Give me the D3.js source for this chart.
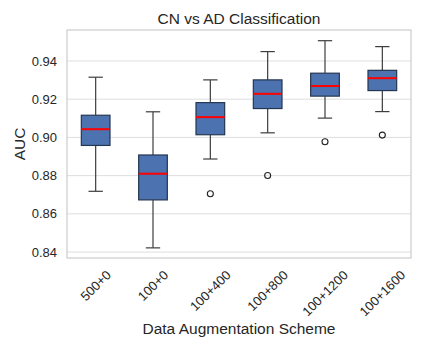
<!DOCTYPE html>
<html>
<head>
<meta charset="utf-8">
<script src="https://cdn.jsdelivr.net/npm/d3@7"></script>
<style>
  body { margin: 0; background: #fff; }
  svg { font-family: "Liberation Sans", Arial, sans-serif; }
</style>
</head>
<body>
<div id="chart"></div>
<script>
const schemes = ["500+0", "100+0", "100+400", "100+800", "100+1200", "100+1600"];
const whiskerLow = [0.8718, 0.8422, 0.8887, 0.9024, 0.9101, 0.9135];
const q1 = [0.8958, 0.8673, 0.9014, 0.9151, 0.9216, 0.9245];
const medians = [0.9043, 0.8810, 0.9106, 0.9228, 0.9269, 0.9310];
const q3 = [0.9116, 0.8908, 0.9182, 0.9301, 0.9336, 0.9351];
const whiskerHigh = [0.9315, 0.9134, 0.9301, 0.9449, 0.9506, 0.9475];
const outliers = [[], [], [0.8705], [0.8801], [0.8977], [0.9012]];
const yTicks = [0.84, 0.86, 0.88, 0.90, 0.92, 0.94];

const W = 423, H = 339;
const margin = { top: 30, right: 12, bottom: 81, left: 67 };
const width = W - margin.left - margin.right;
const height = H - margin.top - margin.bottom;

const svg = d3.select("#chart").append("svg")
    .attr("width", W)
    .attr("height", H);

const g = svg.append("g")
    .attr("transform", `translate(${margin.left},${margin.top})`);

const x = d3.scaleBand().domain(schemes).range([0, width]);
const y = d3.scaleLinear().domain([0.8369, 0.9562]).range([height, 0]);

// grid
g.selectAll(".grid").data(yTicks).enter().append("line")
    .attr("x1", 0).attr("x2", width)
    .attr("y1", d => y(d)).attr("y2", d => y(d))
    .attr("stroke", "#dedede").attr("stroke-width", 1);

// frame
g.append("rect")
    .attr("width", width).attr("height", height)
    .attr("fill", "none").attr("stroke", "#cccccc").attr("stroke-width", 1.2);

// y tick labels
g.selectAll(".ytick").data(yTicks).enter().append("text")
    .attr("x", -10)
    .attr("y", d => y(d))
    .attr("dy", "0.35em")
    .attr("text-anchor", "end")
    .attr("font-size", 13)
    .attr("fill", "#262626")
    .text(d => d3.format(".2f")(d));

const boxW = x.bandwidth() * 0.5;
const capW = boxW * 0.5;
const whiskColor = "#3d3d3d";

const boxes = g.selectAll(".box").data(schemes).enter().append("g")
    .attr("transform", d => `translate(${x(d) + x.bandwidth() / 2},0)`);

// whiskers
boxes.append("line")
    .attr("y1", (d, i) => y(whiskerHigh[i])).attr("y2", (d, i) => y(q3[i]))
    .attr("stroke", whiskColor).attr("stroke-width", 1.2);
boxes.append("line")
    .attr("y1", (d, i) => y(whiskerLow[i])).attr("y2", (d, i) => y(q1[i]))
    .attr("stroke", whiskColor).attr("stroke-width", 1.2);
// caps
boxes.append("line")
    .attr("x1", -capW / 2).attr("x2", capW / 2)
    .attr("y1", (d, i) => y(whiskerHigh[i])).attr("y2", (d, i) => y(whiskerHigh[i]))
    .attr("stroke", whiskColor).attr("stroke-width", 1.2);
boxes.append("line")
    .attr("x1", -capW / 2).attr("x2", capW / 2)
    .attr("y1", (d, i) => y(whiskerLow[i])).attr("y2", (d, i) => y(whiskerLow[i]))
    .attr("stroke", whiskColor).attr("stroke-width", 1.2);
// box
boxes.append("rect")
    .attr("x", -boxW / 2).attr("width", boxW)
    .attr("y", (d, i) => y(q3[i]))
    .attr("height", (d, i) => y(q1[i]) - y(q3[i]))
    .attr("fill", "#4c72b0").attr("stroke", "#253650").attr("stroke-width", 1.2);
// median
boxes.append("line")
    .attr("x1", -boxW / 2).attr("x2", boxW / 2)
    .attr("y1", (d, i) => y(medians[i])).attr("y2", (d, i) => y(medians[i]))
    .attr("stroke", "#ff0000").attr("stroke-width", 2);
// outliers
boxes.each(function (d, i) {
    d3.select(this).selectAll("circle").data(outliers[i]).enter().append("circle")
        .attr("cx", 0).attr("cy", v => y(v)).attr("r", 3)
        .attr("fill", "none").attr("stroke", "#222").attr("stroke-width", 1.1);
});

// x tick labels, rotated 45 and centered on tick
g.selectAll(".xtick").data(schemes).enter().append("text")
    .attr("font-size", 13)
    .attr("fill", "#262626")
    .attr("text-anchor", "middle")
    .attr("dy", "0.35em")
    .text(d => d)
    .each(function (d) {
        const L = this.getComputedTextLength();
        const cx = x(d) + x.bandwidth() / 2;
        const cy = height + 10 + (L + 13) * 0.7071 / 2;
        d3.select(this).attr("x", cx).attr("y", cy)
            .attr("transform", `rotate(-45,${cx},${cy})`);
    });

// title & axis labels
svg.append("text")
    .attr("x", margin.left + width / 2).attr("y", 24)
    .attr("text-anchor", "middle").attr("font-size", 15.5).attr("fill", "#262626")
    .text("CN vs AD Classification");

svg.append("text")
    .attr("x", margin.left + width / 2).attr("y", 334)
    .attr("text-anchor", "middle").attr("font-size", 15.5).attr("fill", "#262626")
    .text("Data Augmentation Scheme");

svg.append("text")
    .attr("transform", `translate(25,${margin.top + height / 2}) rotate(-90)`)
    .attr("text-anchor", "middle").attr("font-size", 15.5).attr("fill", "#262626")
    .text("AUC");
</script>
</body>
</html>
